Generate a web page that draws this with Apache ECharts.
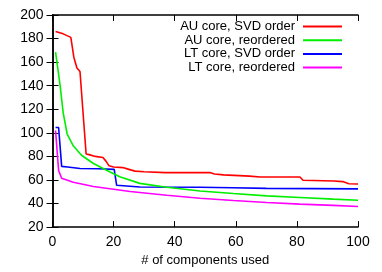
<!DOCTYPE html>
<html><head><meta charset="utf-8">
<script src="https://cdn.jsdelivr.net/npm/echarts@6/dist/echarts.min.js"></script>
<style>html,body{margin:0;padding:0;background:#fff}#c{width:382px;height:272px}</style>
</head><body><div id="c"></div>
<script>
var seriesNames = ["AU core, SVD order", "AU core, reordered", "LT core, SVD order", "LT core, reordered"];
var auSvdX = [1,3.5,6,7,8,9,11,12,14,16.5,17.5,18.5,20,23,25,27,30,37,51.5,53,56,64.5,68,81,82,92,95,97,100];
var auSvdY = [186,184,181,164,155,152,82,81.5,80,79,76,72,71,70.5,69,67.5,67,66.2,66.3,65,64.3,63.3,62.5,62.5,59.7,59.1,58.6,56.8,56.6];
var auReX = [1,2.5,3.5,4.8,6.8,9.5,13.4,17.7,22,28.6,37.4,48.3,59.2,70.1,81,91.9,100];
var auReY = [168.5,140,117,99,89,81,74,68.3,62.8,57.1,53.8,50.7,48.5,46.5,45.1,43.7,42.8];
var ltSvdX = [1,2,3,5,9,15,20.2,21,28.6,48,59,70,100];
var ltSvdY = [104.5,104.5,71.5,71,69.7,69.5,69,55.5,54,53.8,53.4,52.9,52.4];
var ltReX = [1,2,3,6.8,13.4,25.4,37.4,48.3,59.2,70.1,81,91.9,100];
var ltReY = [102,68,61.5,58,54.4,50.2,47,44.5,42.6,40.9,39.5,38.4,37.5];
var colors = ["#ff0000", "#00ee00", "#0000ff", "#ff00ff"];
var xTicks = {min: 0, max: 100, interval: 20};
var yTicks = {min: 20, max: 200, interval: 20};

function pairs(xs, ys){ return xs.map(function(x,i){ return [x, ys[i]]; }); }
var allData = [pairs(auSvdX,auSvdY), pairs(auReX,auReY), pairs(ltSvdX,ltSvdY), pairs(ltReX,ltReY)];

var font = "'Liberation Sans', Arial, sans-serif";
var axisLine = {show: true, lineStyle: {color: '#000', width: 1.5}};
var legends = seriesNames.map(function(n, i){
  return {
    data: [n], right: 40, top: 20 + i*13.7, align: 'right', orient: 'vertical',
    itemWidth: 39, itemHeight: 2, icon: 'rect', padding: 0,
    selectedMode: false,
    textStyle: {fontFamily: font, fontSize: 13, color: '#000', padding: [0, 3, 0, 0]}
  };
});
var chart = echarts.init(document.getElementById('c'), null, {renderer: 'canvas'});
chart.setOption({
  animation: false,
  color: colors,
  legend: legends,
  grid: {left: 52.5, right: 24, top: 15, bottom: 43},
  xAxis: [{
    type: 'value', min: xTicks.min, max: xTicks.max, interval: xTicks.interval,
    name: '# of components used', nameLocation: 'middle', nameGap: 26,
    nameTextStyle: {fontFamily: font, fontSize: 13, color: '#000'},
    axisLine: axisLine, axisTick: {inside: true, length: 6, lineStyle: {color: '#000', width: 1}},
    axisLabel: {fontFamily: font, fontSize: 14, color: '#000', margin: 8},
    splitLine: {show: false}
  }, {
    type: 'value', position: 'top', min: xTicks.min, max: xTicks.max, interval: xTicks.interval,
    axisLine: axisLine, axisTick: {inside: true, length: 6, lineStyle: {color: '#000', width: 1}},
    axisLabel: {show: false}, splitLine: {show: false}
  }],
  yAxis: [{
    type: 'value', min: yTicks.min, max: yTicks.max, interval: yTicks.interval,
    axisLine: axisLine, axisTick: {inside: true, length: 6, lineStyle: {color: '#000', width: 1}},
    axisLabel: {fontFamily: font, fontSize: 14, color: '#000', margin: 9},
    splitLine: {show: false}
  }, {
    type: 'value', position: 'right', min: yTicks.min, max: yTicks.max, interval: yTicks.interval,
    axisLine: axisLine, axisTick: {inside: true, length: 6, lineStyle: {color: '#000', width: 1}},
    axisLabel: {show: false}, splitLine: {show: false}
  }],
  series: seriesNames.map(function(n, i){
    return {name: n, type: 'line', data: allData[i], showSymbol: false, symbol: 'none',
      lineStyle: {width: 1.6, color: colors[i]}, itemStyle: {color: colors[i]}, z: 10 - i};
  })
});
</script></body></html>
